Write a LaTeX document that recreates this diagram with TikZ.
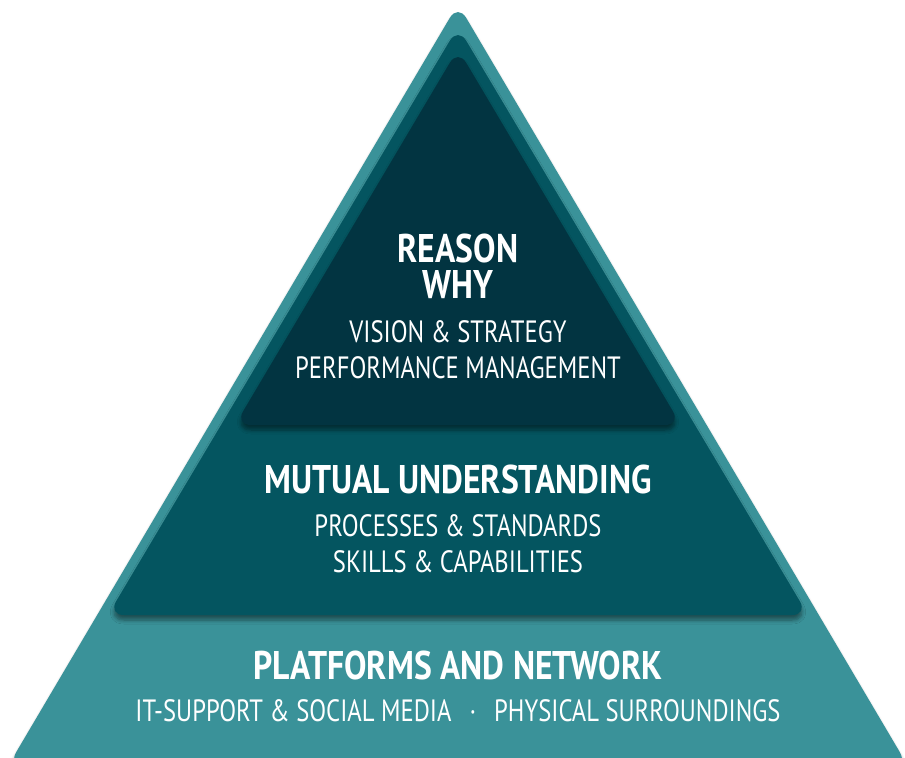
\documentclass[tikz,border=0pt]{standalone}
\usepackage{fontspec}
\setmainfont{PT Sans}[FakeStretch=0.8,BoldFeatures={FakeStretch=0.84}]
\usepackage{tikz}
\usetikzlibrary{shadows.blur,positioning}

\definecolor{tealout}{HTML}{3A9299}
\definecolor{tealmid}{HTML}{045560}
\definecolor{tealin}{HTML}{023441}

\tikzset{
  layer/.style={rounded corners=8pt,
    blur shadow={shadow xshift=0pt,shadow yshift=-2.5pt,shadow opacity=45,shadow blur steps=6}},
  head/.style={text=white,inner sep=0pt,anchor=base,align=center,
    font=\bfseries\fontsize{20}{18}\selectfont},
  sub/.style={text=white,inner sep=0pt,anchor=base,text height=11pt,text depth=0pt,
    font=\fontsize{15.4}{15.4}\selectfont}
}

\begin{document}
\begin{tikzpicture}[x=0.5pt,y=-0.5pt]
  \useasboundingbox (0,0) rectangle (905,757);
  \clip (0,0) rectangle (905,757);
  % the three stacked layers, widest first
  \fill[tealout,layer] (458,4) -- (908,766) -- (8,766) -- cycle;
  \fill[tealmid,layer] (458,27) -- (808,615) -- (108,615) -- cycle;
  \fill[tealin,layer] (458,49) -- (681,425) -- (235,425) -- cycle;
  % top layer
  \node[head] (reason) at (458,298) {REASON\\WHY};
  \node[sub] (vision) at (458,342) {VISION \& STRATEGY};
  \node[sub] (perf) at (458,378) {PERFORMANCE MANAGEMENT};
  % middle layer
  \node[head] (mutual) at (458,493) {MUTUAL UNDERSTANDING};
  \node[sub] (proc) at (458,536) {PROCESSES \& STANDARDS};
  \node[sub] (skills) at (458,572) {SKILLS \& CAPABILITIES};
  % bottom layer
  \node[head] (platf) at (458,679) {PLATFORMS AND NETWORK};
  \node[sub] (itsup) at (458,721) {IT-SUPPORT \& SOCIAL MEDIA\hspace{9pt}·\hspace{9pt}PHYSICAL SURROUNDINGS};
\end{tikzpicture}
\end{document}
